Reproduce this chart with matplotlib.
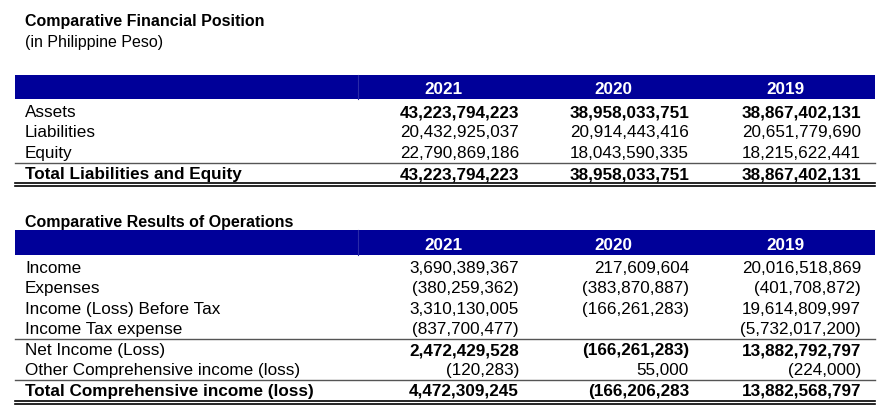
import matplotlib.pyplot as plt

plt.rcParams['font.family'] = ['Liberation Sans', 'DejaVu Sans']

years = ['2021', '2020', '2019']

pos_labels = ['Assets', 'Liabilities', 'Equity', 'Total Liabilities and Equity']
pos_values = [
    ['43,223,794,223', '38,958,033,751', '38,867,402,131'],
    ['20,432,925,037', '20,914,443,416', '20,651,779,690'],
    ['22,790,869,186', '18,043,590,335', '18,215,622,441'],
    ['43,223,794,223', '38,958,033,751', '38,867,402,131'],
]
pos_bold = [True, False, False, True]

ops_labels = ['Income', 'Expenses', 'Income (Loss) Before Tax', 'Income Tax expense',
              'Net Income (Loss)', 'Other Comprehensive income (loss)',
              'Total Comprehensive income (loss)']
ops_values = [
    ['3,690,389,367', '217,609,604', '20,016,518,869'],
    ['(380,259,362)', '(383,870,887)', '(401,708,872)'],
    ['3,310,130,005', '(166,261,283)', '19,614,809,997'],
    ['(837,700,477)', '', '(5,732,017,200)'],
    ['2,472,429,528', '(166,261,283)', '13,882,792,797'],
    ['(120,283)', '55,000', '(224,000)'],
    ['4,472,309,245', '(166,206,283', '13,882,568,797'],
]
ops_bold_vals = [False, False, False, False, True, False, True]
ops_bold_lbl = [False, False, False, False, False, False, True]

fig = plt.figure(figsize=(8.86, 4.17), dpi=100)
ax = fig.add_axes([0, 0, 1, 1])
ax.set_xlim(0, 886)
ax.set_ylim(417, 0)
ax.axis('off')

NAVY = '#000099'
FS = 12.3
TFS = 11.5
col_center = [443, 613, 785]
col_right = [519, 689, 861]


def header(y0, y1):
    ax.fill_between([15, 875], y0, y1, color=NAVY, lw=0)
    ax.plot([358, 358], [y0, y1], color='#2a2aa8', lw=0.8)
    for xc, yr in zip(col_center, years):
        ax.text(xc, (y0 + y1) / 2 + 1, yr, color='white', fontsize=FS,
                fontweight='bold', ha='center', va='center_baseline')


def row(y, label, vals, bold_lbl, bold_vals):
    ax.text(25, y, label, fontsize=FS, va='center_baseline',
            fontweight='bold' if bold_lbl else 'normal')
    for xr, v in zip(col_right, vals):
        ax.text(xr, y, v, fontsize=FS, va='center_baseline', ha='right',
                fontweight='bold' if bold_vals else 'normal')


def hline(y, lw=1.0, color='#555555'):
    ax.plot([15, 875], [y, y], color=color, lw=lw)


ax.text(25, 20, 'Comparative Financial Position', fontsize=TFS, fontweight='bold', va='center_baseline')
ax.text(25, 41, '(in Philippine Peso)', fontsize=TFS, va='center_baseline')

header(75, 99)
pos_y = [111, 131, 152, 173]
for y, lbl, vals, b in zip(pos_y, pos_labels, pos_values, pos_bold):
    row(y, lbl, vals, lbl.startswith('Total'), b)
hline(162.5)
hline(183, 1.2, 'black')
hline(186, 1.2, 'black')

ax.text(25, 221, 'Comparative Results of Operations', fontsize=TFS, fontweight='bold', va='center_baseline')
header(230, 255)
ops_y = [267, 287, 308, 328, 349, 369, 390]
for y, lbl, vals, bl, bv in zip(ops_y, ops_labels, ops_values, ops_bold_lbl, ops_bold_vals):
    row(y, lbl, vals, bl, bv)
hline(338.5)
hline(379.5)
hline(401, 1.2, 'black')
hline(404, 1.2, 'black')

fig.savefig('out.png', dpi=100)
